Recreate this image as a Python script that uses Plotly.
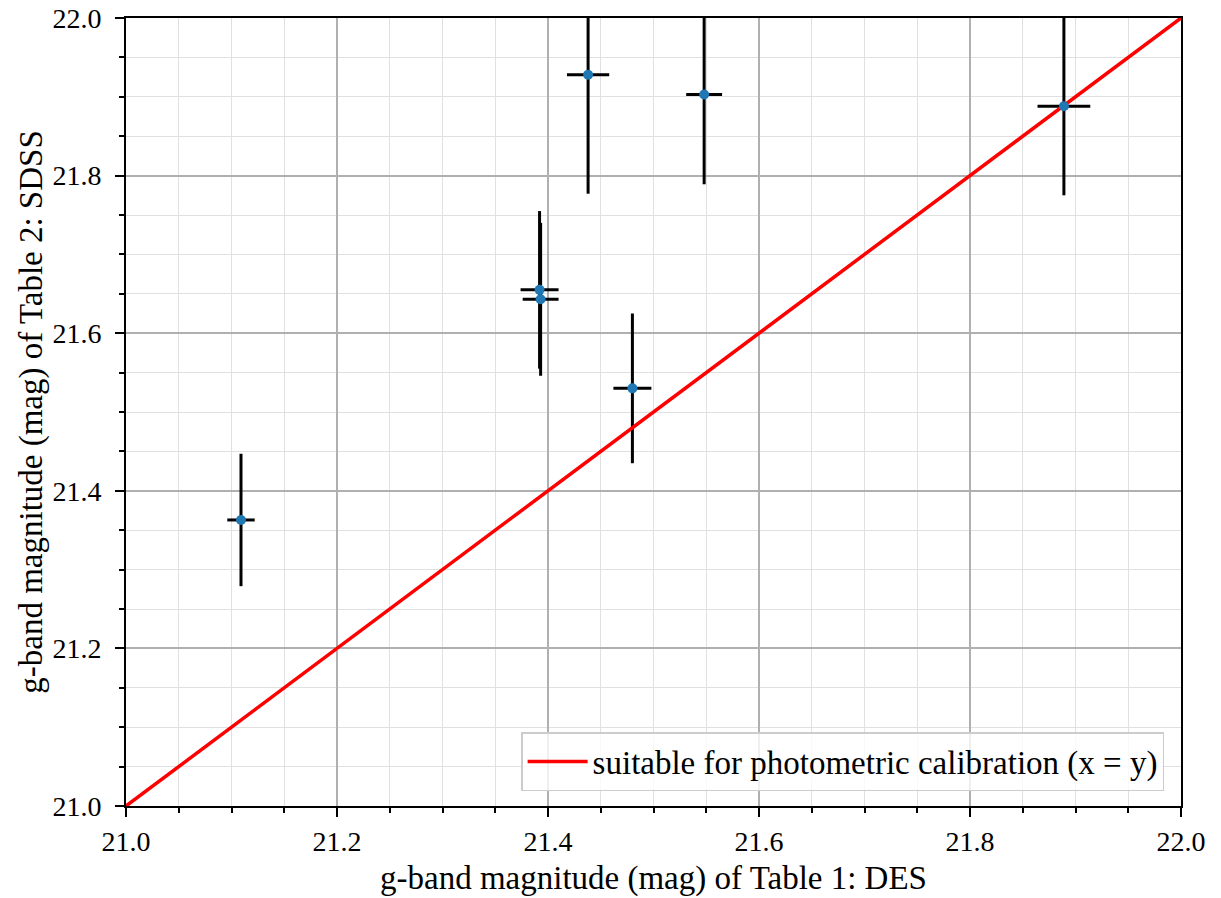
import plotly.graph_objects as go

# Data: g-band magnitudes
des_mag = [21.109, 21.392, 21.393, 21.438, 21.480, 21.548, 21.889]
sdss_mag = [21.363, 21.655, 21.643, 21.928, 21.530, 21.903, 21.888]
des_err = [0.013, 0.018, 0.017, 0.020, 0.018, 0.017, 0.025]
sdss_err = [0.084, 0.100, 0.097, 0.151, 0.095, 0.114, 0.113]

line_x = [21.0, 22.0]
line_y = [21.0, 22.0]
x_ticks = [21.0, 21.2, 21.4, 21.6, 21.8, 22.0]
y_ticks = [21.0, 21.2, 21.4, 21.6, 21.8, 22.0]

FONT = "Liberation Serif"

fig = go.Figure()

# error bars (below)
fig.add_trace(go.Scatter(
    x=des_mag, y=sdss_mag, mode="markers",
    marker=dict(size=9, color="rgba(0,0,0,0)"),
    error_x=dict(type="data", array=des_err, visible=True, color="black", thickness=3, width=0),
    error_y=dict(type="data", array=sdss_err, visible=True, color="black", thickness=3, width=0),
    showlegend=False, hoverinfo="skip",
))

# x = y line
fig.add_trace(go.Scatter(
    x=line_x, y=line_y, mode="lines",
    line=dict(color="red", width=3.5),
    name="suitable for photometric calibration (x = y)",
))

# markers on top
fig.add_trace(go.Scatter(
    x=des_mag, y=sdss_mag, mode="markers",
    marker=dict(size=10, color="#1f77b4"),
    showlegend=False,
))

axis_common = dict(
    showline=True, linecolor="black", linewidth=2, mirror=True,
    ticks="outside", ticklen=9, tickwidth=2, tickcolor="black",
    showgrid=True, gridcolor="#b0b0b0", gridwidth=1.5,
    zeroline=False, automargin=False,
    tickfont=dict(family=FONT, size=28, color="black"),
    tickformat=".1f", ticklabeloverflow="allow",
    minor=dict(dtick=0.05, ticks="outside", ticklen=5, tickwidth=1.5, tickcolor="black",
               showgrid=True, gridcolor="#e0e0e0", gridwidth=1.2),
)

fig.update_xaxes(range=[21.0, 22.0], tickvals=x_ticks, **axis_common,
                 title=dict(text="g-band magnitude (mag) of Table 1: DES",
                            font=dict(family=FONT, size=33, color="black"), standoff=10))
fig.update_yaxes(range=[21.0, 22.0], tickvals=y_ticks, **axis_common,
                 ticklabelstandoff=8,
                 title=dict(text="g-band magnitude (mag) of Table 2: SDSS",
                            font=dict(family=FONT, size=33, color="black"), standoff=0))

fig.update_layout(
    width=1221, height=898,
    margin=dict(l=118, r=48, t=10, b=100),
    paper_bgcolor="white", plot_bgcolor="white",
    font=dict(family=FONT, color="black"),
    legend=dict(
        x=0.984, y=0.019, xanchor="right", yanchor="bottom",
        bgcolor="rgba(255,255,255,0.8)", bordercolor="#cccccc", borderwidth=1.5,
        font=dict(family=FONT, size=33, color="black"),
        itemwidth=60,
    ),
)

fig.write_html("out.html")
